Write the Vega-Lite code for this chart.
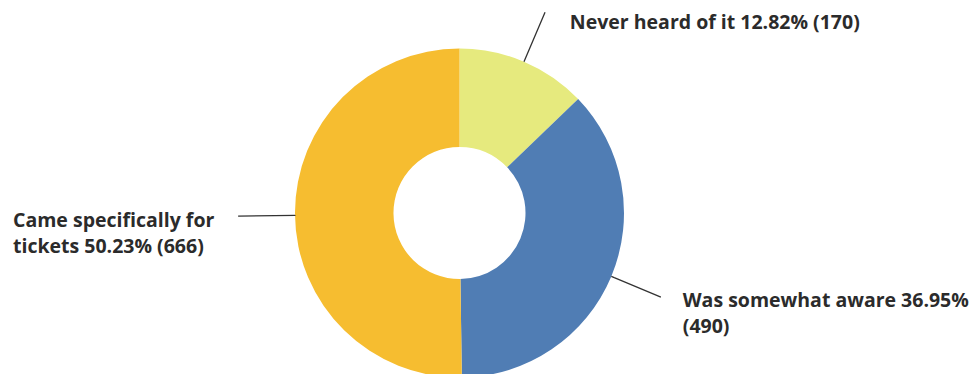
{
  "$schema": "https://vega.github.io/schema/vega-lite/v6.json",
  "autosize": "none",
  "width": 919,
  "height": 322,
  "padding": {"left": 0, "top": 52, "right": 55, "bottom": 0},
  "background": "white",
  "config": {"view": {"stroke": null}},
  "data": {
    "values": [
      {"answer": "Never heard of it", "count": 170, "pct": 12.82, "label": "Never heard of it 12.82% (170)"},
      {"answer": "Was somewhat aware", "count": 490, "pct": 36.95, "label": "Was somewhat aware 36.95%\n(490)"},
      {"answer": "Came specifically for tickets", "count": 666, "pct": 50.23, "label": "Came specifically for\ntickets 50.23% (666)"}
    ]
  },
  "encoding": {
    "theta": {"field": "count", "type": "quantitative", "stack": true},
    "order": {"field": "count", "sort": "ascending"}
  },
  "layer": [
    {
      "mark": {"type": "arc", "innerRadius": 66, "outerRadius": 164.5},
      "encoding": {
        "color": {
          "field": "answer",
          "type": "nominal",
          "scale": {
            "domain": ["Never heard of it", "Was somewhat aware", "Came specifically for tickets"],
            "range": ["#E6EA7E", "#507DB4", "#F6BD30"]
          },
          "legend": null
        }
      }
    },
    {
      "description": "Leader lines: a heavy pad angle squeezes each slice onto its mid-angle; the dash keeps one radial edge only.",
      "mark": {
        "type": "arc",
        "innerRadius": 164.5,
        "outerRadius": 221.5,
        "padAngle": 3.1,
        "fill": "transparent",
        "stroke": "#333333",
        "strokeWidth": 1.3,
        "strokeDash": [0, 3.25, 57, 400]
      }
    },
    {
      "mark": {
        "type": "text",
        "radius": 212.7,
        "align": "left",
        "baseline": "alphabetic",
        "dx": 27,
        "dy": 12,
        "lineBreak": "\n",
        "lineHeight": 26.5,
        "font": "Open Sans",
        "fontSize": 19.5,
        "fontWeight": 700,
        "fill": "#2b2b2b"
      },
      "encoding": {
        "text": {
          "condition": {"test": "datum.answer === 'Came specifically for tickets'", "value": ""},
          "field": "label"
        }
      }
    },
    {
      "mark": {
        "type": "text",
        "radius": 446.5,
        "align": "left",
        "baseline": "alphabetic",
        "dy": 10.6,
        "lineBreak": "\n",
        "lineHeight": 26.5,
        "font": "Open Sans",
        "fontSize": 19.5,
        "fontWeight": 700,
        "fill": "#2b2b2b"
      },
      "encoding": {
        "text": {
          "condition": {"test": "datum.answer !== 'Came specifically for tickets'", "value": ""},
          "field": "label"
        }
      }
    }
  ]
}
